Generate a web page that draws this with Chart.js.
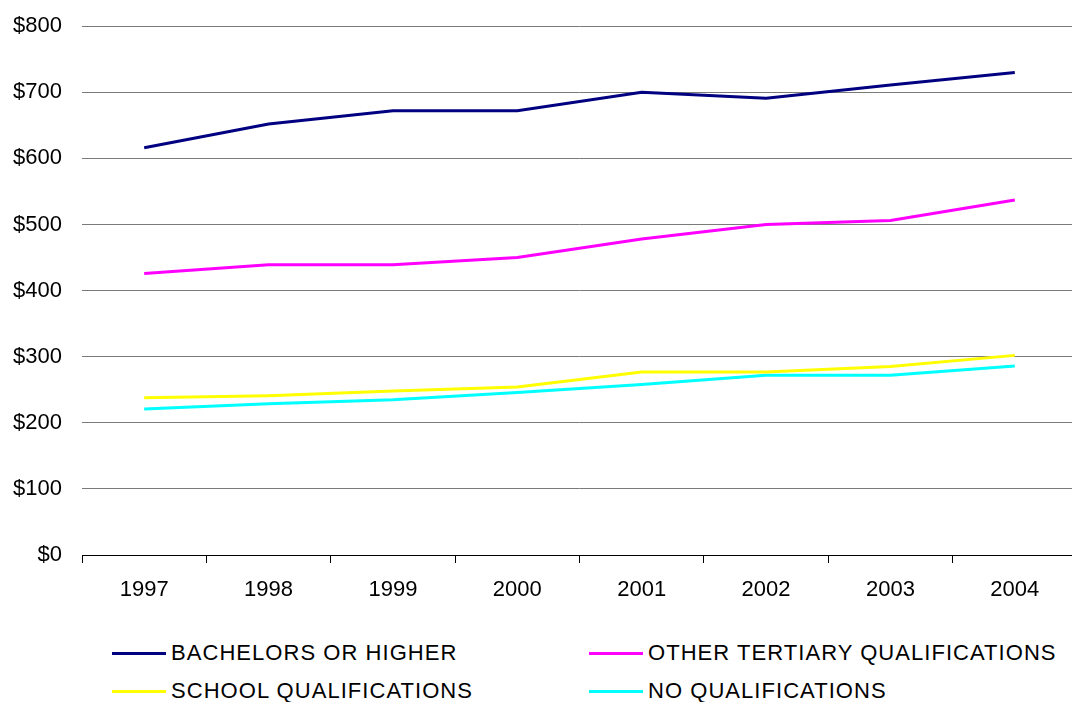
<!DOCTYPE html>
<html>
<head>
<meta charset="utf-8">
<script src="https://cdn.jsdelivr.net/npm/chart.js@4"></script>
<style>
  html, body { margin: 0; padding: 0; background: #fff; overflow: hidden; }
  #wrap { position: relative; width: 1072px; height: 702px; overflow: hidden; }
  #chartBox { position: absolute; left: 0; top: -7px; width: 1078px; height: 627px; }
  .legend-item { position: absolute; display: flex; align-items: center; font-family: "Liberation Sans", Arial, sans-serif; font-size: 22px; letter-spacing: 1.05px; color: #000; white-space: nowrap; }
  .legend-swatch { display: inline-block; width: 54px; height: 3px; margin-right: 5px; }
</style>
</head>
<body>
<div id="wrap">
  <div id="chartBox"><canvas id="earningsChart" width="1078" height="627"></canvas></div>
  <div id="legend"></div>
</div>
<script>
// Chart data
const years = ['1997', '1998', '1999', '2000', '2001', '2002', '2003', '2004'];
const bachelors = [616, 652, 672, 672, 700, 691, 711, 730];
const otherTertiary = [426, 439, 439, 450, 478, 500, 506, 537];
const schoolQuals = [238, 241, 248, 254, 277, 277, 285, 302];
const noQuals = [221, 229, 235, 246, 258, 272, 272, 286];
const seriesNames = ['BACHELORS OR HIGHER', 'OTHER TERTIARY QUALIFICATIONS', 'SCHOOL QUALIFICATIONS', 'NO QUALIFICATIONS'];
const seriesColors = ['#000080', '#ff00ff', '#ffff00', '#00ffff'];
const yTicks = [0, 100, 200, 300, 400, 500, 600, 700, 800];

const seriesValues = [bachelors, otherTertiary, schoolQuals, noQuals];
const FONT = '"Liberation Sans", Arial, sans-serif';

const chart = new Chart(document.getElementById('earningsChart').getContext('2d'), {
    type: 'line',
    data: {
        labels: years,
        datasets: seriesValues.map((vals, i) => ({
            label: seriesNames[i],
            data: vals,
            borderColor: seriesColors[i],
            backgroundColor: seriesColors[i],
            borderWidth: 3,
            pointRadius: 0,
            tension: 0,
            fill: false
        }))
    },
    options: {
        responsive: false,
        animation: false,
        layout: { padding: { top: 18, right: 1, left: 0, bottom: 0 } },
        plugins: {
            legend: { display: false },
            tooltip: { enabled: false }
        },
        scales: {
            x: {
                offset: true,
                grid: {
                    offset: true,
                    drawOnChartArea: false,
                    drawTicks: true,
                    tickLength: 8,
                    color: '#000'
                },
                border: { display: true, color: '#000', width: 1 },
                ticks: {
                    color: '#000',
                    font: { family: FONT, size: 22 },
                    padding: 14,
                    maxRotation: 0
                },
                afterFit: scale => { scale.height = 65; }
            },
            y: {
                min: yTicks[0],
                max: yTicks[yTicks.length - 1],
                afterBuildTicks: scale => { scale.ticks = yTicks.map(v => ({ value: v })); },
                grid: {
                    color: ctx => ctx.tick && ctx.tick.value === 0 ? '#000' : '#7a7a7a',
                    lineWidth: 1,
                    drawTicks: false
                },
                border: { display: false },
                ticks: {
                    color: '#000',
                    font: { family: FONT, size: 22 },
                    padding: 20,
                    callback: v => '$' + v
                },
                afterFit: scale => { scale.width = 82; }
            }
        }
    }
});

// HTML legend, two columns like the original
const legendPos = [
    { left: 112, top: 653 },
    { left: 589, top: 653 },
    { left: 112, top: 691 },
    { left: 589, top: 691 }
];
const legendEl = document.getElementById('legend');
const legendOrder = [0, 1, 2, 3];
legendOrder.forEach((idx, k) => {
    const item = document.createElement('div');
    item.className = 'legend-item';
    item.style.left = legendPos[k].left + 'px';
    item.style.top = (legendPos[k].top - 13) + 'px';
    item.innerHTML = `<span class="legend-swatch" style="background:${seriesColors[idx]}"></span><span>${seriesNames[idx]}</span>`;
    legendEl.appendChild(item);
});
</script>
</body>
</html>
